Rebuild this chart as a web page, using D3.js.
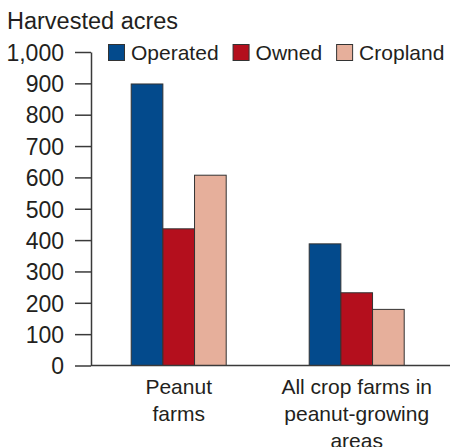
<!DOCTYPE html>
<html>
<head>
<meta charset="utf-8">
<script src="https://cdn.jsdelivr.net/npm/d3@7"></script>
<style>
  body { margin: 0; background: #fff; }
  svg text { font-family: "Liberation Sans", Arial, Helvetica, sans-serif; fill: #231f20; }
</style>
</head>
<body>
<div id="chart"></div>
<script>
var categories = [["Peanut", "farms"], ["All crop farms in", "peanut-growing", "areas"]];
var seriesNames = ["Operated", "Owned", "Cropland"];
var operated = [898, 388];
var owned = [436, 232];
var cropland = [607, 179];
var yTicks = [0, 100, 200, 300, 400, 500, 600, 700, 800, 900, 1000];

var colorTheme = ["#034a8c", "#b40f1d", "#e6af9b"];

var width = 450, height = 447;
var axisX = 91;
var yBottom = 365.5, yTop = 52;

var svg = d3.select("#chart")
  .append("svg")
  .attr("width", width)
  .attr("height", height);

var y = d3.scaleLinear()
  .domain([0, 1000])
  .range([yBottom, yTop]);

var keys = categories.map(function(c) { return c.join(" "); });

var x0 = d3.scaleBand()
  .domain(keys)
  .range([89.7, 445.7]);

var x1 = d3.scaleBand()
  .domain(seriesNames)
  .range([-47.5, 47.5]);

var color = d3.scaleOrdinal(colorTheme).domain(seriesNames);

var data = keys.map(function(k, i) {
  return { key: k, values: [
    { name: "Operated", value: operated[i] },
    { name: "Owned", value: owned[i] },
    { name: "Cropland", value: cropland[i] }
  ]};
});

// title
svg.append("text")
  .attr("x", 7)
  .attr("y", 29)
  .style("font-size", "23.5px")
  .text("Harvested acres");

// bars
var groups = svg.append("g")
  .selectAll("g")
  .data(data)
  .enter().append("g")
  .attr("transform", function(d) {
    return "translate(" + (x0(d.key) + x0.bandwidth() / 2) + ",0)";
  });

groups.selectAll("rect")
  .data(function(d) { return d.values; })
  .enter().append("rect")
  .attr("x", function(d) { return x1(d.name); })
  .attr("y", function(d) { return y(d.value); })
  .attr("width", x1.bandwidth())
  .attr("height", function(d) { return y(0) - y(d.value); })
  .attr("fill", function(d) { return color(d.name); })
  .attr("stroke", "#333")
  .attr("stroke-width", 1);

// y axis
var yAxis = svg.append("g")
  .attr("transform", "translate(" + axisX + ",0)")
  .call(d3.axisLeft(y)
    .tickValues(yTicks)
    .tickFormat(d3.format(","))
    .tickSize(16)
    .tickSizeOuter(0)
    .tickPadding(11));

yAxis.select(".domain").attr("stroke", "#3a3a3a").attr("stroke-width", 1.5);
yAxis.selectAll(".tick line").attr("stroke", "#3a3a3a").attr("stroke-width", 1.5);
yAxis.selectAll(".tick text")
  .attr("fill", "#231f20")
  .style("font-size", "23px")
  .attr("dy", "0.36em");

// baseline
svg.append("line")
  .attr("x1", axisX)
  .attr("x2", width)
  .attr("y1", y(0))
  .attr("y2", y(0))
  .attr("stroke", "#3a3a3a")
  .attr("stroke-width", 1.5);

// category labels
var catLabels = svg.append("g")
  .selectAll("text")
  .data(categories)
  .enter().append("text")
  .attr("text-anchor", "middle")
  .style("font-size", "21px")
  .attr("transform", function(d, i) {
    return "translate(" + (x0(keys[i]) + x0.bandwidth() / 2) + ",394)";
  });

catLabels.selectAll("tspan")
  .data(function(d) { return d; })
  .enter().append("tspan")
  .attr("x", 0)
  .attr("y", function(d, i) { return i * 27; })
  .text(function(d) { return d; });

// legend
var legend = svg.append("g")
  .attr("transform", "translate(108,44)");

var lx = 0;
seriesNames.forEach(function(name) {
  var item = legend.append("g").attr("transform", "translate(" + lx + ",0)");
  item.append("rect")
    .attr("x", 0.5)
    .attr("y", 0.5)
    .attr("width", 16)
    .attr("height", 16)
    .attr("fill", color(name))
    .attr("stroke", "#333")
    .attr("stroke-width", 1);
  var t = item.append("text")
    .attr("x", 23)
    .attr("y", 16)
    .style("font-size", "21px")
    .text(name);
  lx += 23 + t.node().getComputedTextLength() + 14;
});
</script>
</body>
</html>
